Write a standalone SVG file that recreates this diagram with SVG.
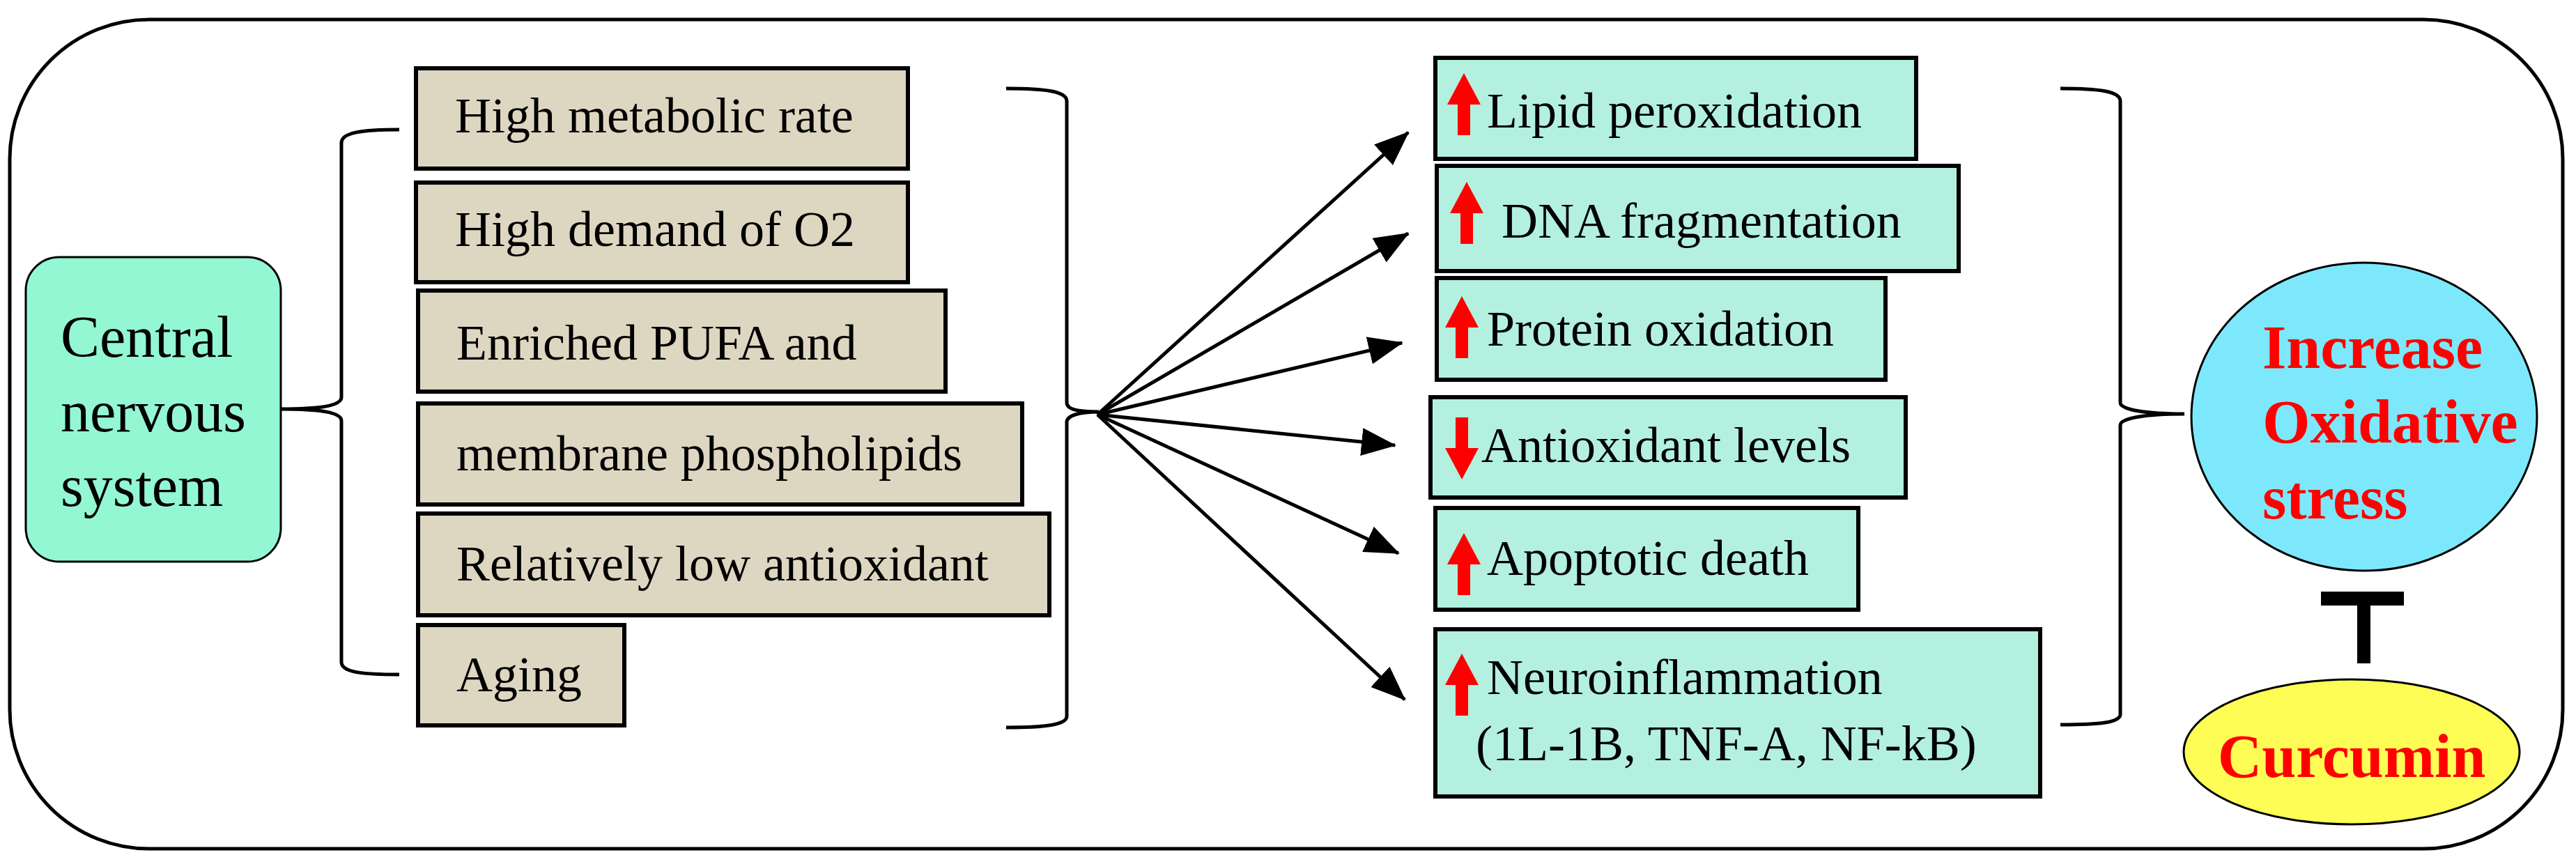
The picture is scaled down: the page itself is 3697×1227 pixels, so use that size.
<svg xmlns="http://www.w3.org/2000/svg" width="3697" height="1227" viewBox="0 0 3697 1227">
<style>
.t{font-family:"Liberation Serif","Times New Roman",serif;font-size:72px;fill:#000}
.c{font-size:84px}
.b{font-family:"Liberation Serif","Times New Roman",serif;font-weight:bold;font-size:88px;fill:#ff0000}
.tan{fill:#ddd6c1;stroke:#000;stroke-width:6}
.tl{fill:#b3f0df;stroke:#000;stroke-width:6}
.br{fill:none;stroke:#000;stroke-width:5}
.ar{stroke:#000;stroke-width:5;fill:none}
.up{fill:#ff0000}
</style>
<defs>
<marker id="ah" markerUnits="userSpaceOnUse" markerWidth="50" markerHeight="40" viewBox="0 0 50 40" refX="48" refY="20" orient="auto"><path d="M0,0 L50,20 L0,40 Z" fill="#000"/></marker>
<path id="uparr" d="M-24,0 L0,-45 L24,0 L9,0 L9,44 L-9,44 L-9,0 Z"/>
</defs>
<rect x="14" y="28" width="3664" height="1190" rx="200" fill="#fff" stroke="#000" stroke-width="5"/>
<g id="cns"><rect x="37" y="369" width="366" height="437" rx="48" fill="#93f7d3" stroke="#000" stroke-width="3"/>
<text class="t c" x="87" y="512">Central</text><text class="t c" x="87" y="619">nervous</text><text class="t c" x="87" y="726">system</text></g>
<g id="f1"><rect class="tan" x="597" y="98" width="706" height="144"/><text class="t" x="653" y="190">High metabolic rate</text></g>
<g id="f2"><rect class="tan" x="597" y="262" width="706" height="143"/><text class="t" x="653" y="353">High demand of O2</text></g>
<g id="f3"><rect class="tan" x="600" y="417" width="757" height="145"/><text class="t" x="655" y="516">Enriched PUFA  and</text></g>
<g id="f4"><rect class="tan" x="600" y="579" width="867" height="145"/><text class="t" x="655" y="675">membrane phospholipids</text></g>
<g id="f5"><rect class="tan" x="600" y="737" width="906" height="146"/><text class="t" x="655" y="833">Relatively low antioxidant</text></g>
<g id="f6"><rect class="tan" x="600" y="897" width="296" height="144"/><text class="t" x="655" y="992">Aging</text></g>
<g id="e1"><rect class="tl" x="2060" y="83" width="690" height="145"/><use href="#uparr" class="up" x="2101" y="150"/><text class="t" x="2134" y="183">Lipid peroxidation</text></g>
<g id="e2"><rect class="tl" x="2062" y="238" width="749" height="151"/><use href="#uparr" class="up" x="2105" y="306"/><text class="t" x="2155" y="341">DNA fragmentation</text></g>
<g id="e3"><rect class="tl" x="2062" y="399" width="644" height="146"/><use href="#uparr" class="up" x="2098" y="470"/><text class="t" x="2134" y="496">Protein oxidation</text></g>
<g id="e4"><rect class="tl" x="2053" y="570" width="682" height="144"/><use href="#uparr" class="up" x="2098" y="643" transform="rotate(180 2098 643)"/><text class="t" x="2126" y="663">Antioxidant levels</text></g>
<g id="e5"><rect class="tl" x="2060" y="729" width="607" height="146"/><use href="#uparr" class="up" x="2101" y="810"/><text class="t" x="2134" y="825">Apoptotic death</text></g>
<g id="e6"><rect class="tl" x="2060" y="903" width="868" height="240"/><use href="#uparr" class="up" x="2098" y="983"/><text class="t" x="2134" y="996">Neuroinflammation</text><text class="t" x="2118" y="1091">(1L-1B, TNF-A, NF-kB)</text></g>
<g id="ox"><ellipse cx="3393" cy="598" rx="248" ry="221" fill="#7de8fb" stroke="#000" stroke-width="3"/>
<text class="b" x="3247" y="528">Increase</text><text class="b" x="3247" y="635">Oxidative</text><text class="b" x="3247" y="744">stress</text></g>
<g id="cur"><ellipse cx="3375" cy="1079" rx="241" ry="104" fill="#fdfd55" stroke="#000" stroke-width="3"/>
<text class="b" x="3375" y="1115" text-anchor="middle">Curcumin</text></g>
<g id="connectors">
<path class="br" d="M573,186 C520,186 490,190 490,205 L490,570 C490,582 460,587 403,587 C460,587 490,592 490,604 L490,950 C490,965 520,968 573,968"/>
<path class="br" d="M1444,127 C1500,127 1531,131 1531,145 L1531,578 C1531,588 1550,591 1577,591 C1550,591 1531,596 1531,606 L1531,1028 C1531,1040 1500,1044 1444,1044"/>
<path class="br" d="M2957,127 C3013,127 3043,131 3043,145 L3043,578 C3043,588 3080,594 3135,594 C3080,594 3043,600 3043,610 L3043,1025 C3043,1037 3013,1040 2957,1040"/>
<line class="ar" x1="1575" y1="595" x2="2021" y2="190" marker-end="url(#ah)"/>
<line class="ar" x1="1575" y1="595" x2="2021" y2="335" marker-end="url(#ah)"/>
<line class="ar" x1="1575" y1="595" x2="2012" y2="492" marker-end="url(#ah)"/>
<line class="ar" x1="1575" y1="595" x2="2002" y2="639" marker-end="url(#ah)"/>
<line class="ar" x1="1575" y1="595" x2="2007" y2="794" marker-end="url(#ah)"/>
<line class="ar" x1="1575" y1="595" x2="2016" y2="1004" marker-end="url(#ah)"/>
<rect x="3331" y="849" width="119" height="20" fill="#000"/>
<rect x="3383" y="849" width="19" height="103" fill="#000"/>
</g>
</svg>
